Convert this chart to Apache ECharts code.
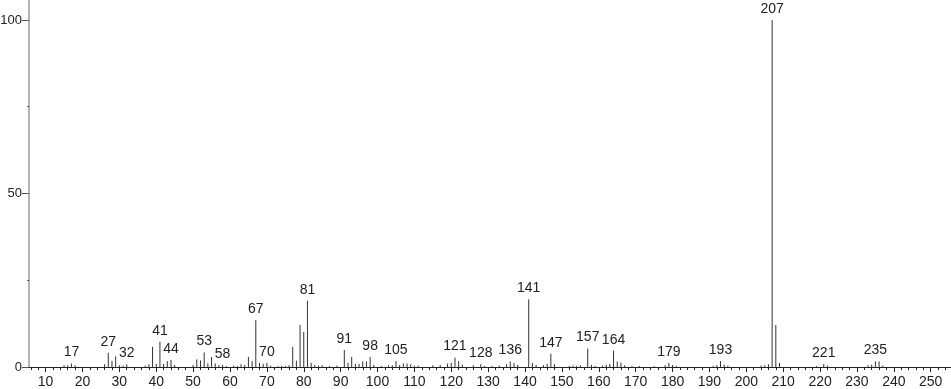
<!DOCTYPE html>
<html>
<head>
<meta charset="utf-8">
<script src="https://cdn.jsdelivr.net/npm/echarts@6/dist/echarts.min.js"></script>
<style>html,body{margin:0;padding:0;background:#fff}#c{width:951px;height:389px}</style>
</head>
<body>
<div id="c"></div>
<script>
const mz = [15,16,17,18,26,27,28,29,30,31,32,37,38,39,40,41,42,43,44,45,50,51,52,53,54,55,56,57,58,59,61,62,63,64,65,66,67,68,69,70,71,73,74,75,76,77,78,79,80,81,82,83,84,85,87,89,91,92,93,94,95,96,97,98,99,101,103,104,105,106,107,108,109,110,111,115,117,119,120,121,122,123,126,128,129,131,133,135,136,137,138,141,142,143,145,146,147,148,152,153,154,155,157,158,159,161,162,163,164,165,166,167,169,171,175,178,179,180,181,191,192,193,194,195,204,205,206,207,208,209,219,221,222,233,234,235,236,237];
const intensity = [0.5,0.5,1.0,0.5,0.8,4.1,1.8,3.1,0.5,0.4,0.8,0.4,0.8,5.8,0.9,7.3,0.9,1.7,2.0,0.6,0.6,2.2,1.9,4.2,1.0,2.9,1.0,0.6,0.6,0.3,0.4,0.3,0.8,0.6,2.9,1.7,13.5,1.2,0.9,1.2,0.4,0.3,0.3,0.3,0.5,5.8,1.8,12.1,10.1,19.1,1.2,0.6,0.4,0.5,0.3,0.4,4.9,1.2,2.9,0.9,0.9,1.6,1.6,2.9,0.6,0.3,0.5,0.5,1.7,0.6,1.0,1.0,0.8,0.4,0.4,0.5,0.6,1.0,1.2,2.7,1.7,0.7,0.5,0.8,0.3,0.3,0.4,0.8,1.6,1.1,0.6,19.5,1.2,0.6,0.5,0.9,3.8,0.8,0.3,0.4,0.3,0.5,5.3,0.6,0.3,0.4,0.7,0.9,4.7,1.6,1.3,0.5,0.3,0.3,0.3,0.5,1.2,0.6,0.3,0.3,0.5,1.7,0.7,0.4,0.4,0.5,0.8,100,12.1,1.2,0.3,0.9,0.4,0.5,0.7,1.6,1.6,0.4];
const labeledPeaks = [17,27,32,41,44,53,58,67,70,81,91,98,105,121,128,136,141,147,157,164,179,193,207,221,235];
const xTickLabels = [10,20,30,40,50,60,70,80,90,100,110,120,130,140,150,160,170,180,190,200,210,220,230,240,250];
const xMinorTicks = [];
for (let v = 6; v <= 254; v += 2) xMinorTicks.push(v);
const yTickLabels = [0,50,100];
const yMinorTicks = [25,75];

const data = mz.map((m, i) => [m, intensity[i], labeledPeaks.indexOf(m) >= 0 ? 1 : 0]);

const font = 'Liberation Sans';
const chart = echarts.init(document.getElementById('c'), null, { renderer: 'canvas' });
chart.setOption({
  animation: false,
  grid: { left: 29, right: 0, top: 0, bottom: 22, containLabel: false, outerBoundsMode: 'none' },
  xAxis: [{
    type: 'value', min: 5.5, max: 255.5,
    axisLine: { show: true, lineStyle: { color: '#222', width: 1 } },
    axisTick: { show: true, length: 5, customValues: xTickLabels, lineStyle: { color: '#222' } },
    axisLabel: { customValues: xTickLabels, margin: 8, fontSize: 14, fontFamily: font, color: '#222' },
    splitLine: { show: false }
  }, {
    type: 'value', min: 5.5, max: 255.5, position: 'bottom',
    axisLine: { show: false },
    axisTick: { show: true, length: 3, customValues: xMinorTicks, lineStyle: { color: '#222' } },
    axisLabel: { show: false },
    splitLine: { show: false }
  }],
  yAxis: [{
    type: 'value', min: 0, max: 105.76,
    axisLine: { show: true, lineStyle: { color: '#999', width: 1.5 } },
    axisTick: { show: true, length: 7, customValues: yTickLabels, lineStyle: { color: '#555' } },
    axisLabel: { customValues: yTickLabels, margin: 7, fontSize: 13, fontFamily: font, color: '#222' },
    splitLine: { show: false }
  }, {
    type: 'value', min: 0, max: 105.76, position: 'left',
    axisLine: { show: false },
    axisTick: { show: true, length: 2, customValues: yMinorTicks, lineStyle: { color: '#555' } },
    axisLabel: { show: false },
    splitLine: { show: false }
  }],
  series: [{
    type: 'custom',
    xAxisIndex: 0, yAxisIndex: 0,
    clip: false,
    encode: { x: 0, y: 1 },
    renderItem: function (params, api) {
      const x = api.value(0), y = api.value(1), lab = api.value(2);
      const p0 = api.coord([x, 0]);
      const p1 = api.coord([x, y]);
      const children = [{
        type: 'line',
        shape: { x1: p0[0], y1: p0[1], x2: p1[0], y2: p1[1] },
        style: { stroke: '#333', lineWidth: 1 }
      }];
      if (lab) {
        children.push({
          type: 'text',
          style: {
            text: String(x), x: p1[0], y: p1[1] - 4,
            align: 'center', verticalAlign: 'bottom',
            fontSize: 14, fontFamily: font, fill: '#222'
          }
        });
      }
      return { type: 'group', children: children };
    },
    data: data
  }]
});
</script>
</body>
</html>
